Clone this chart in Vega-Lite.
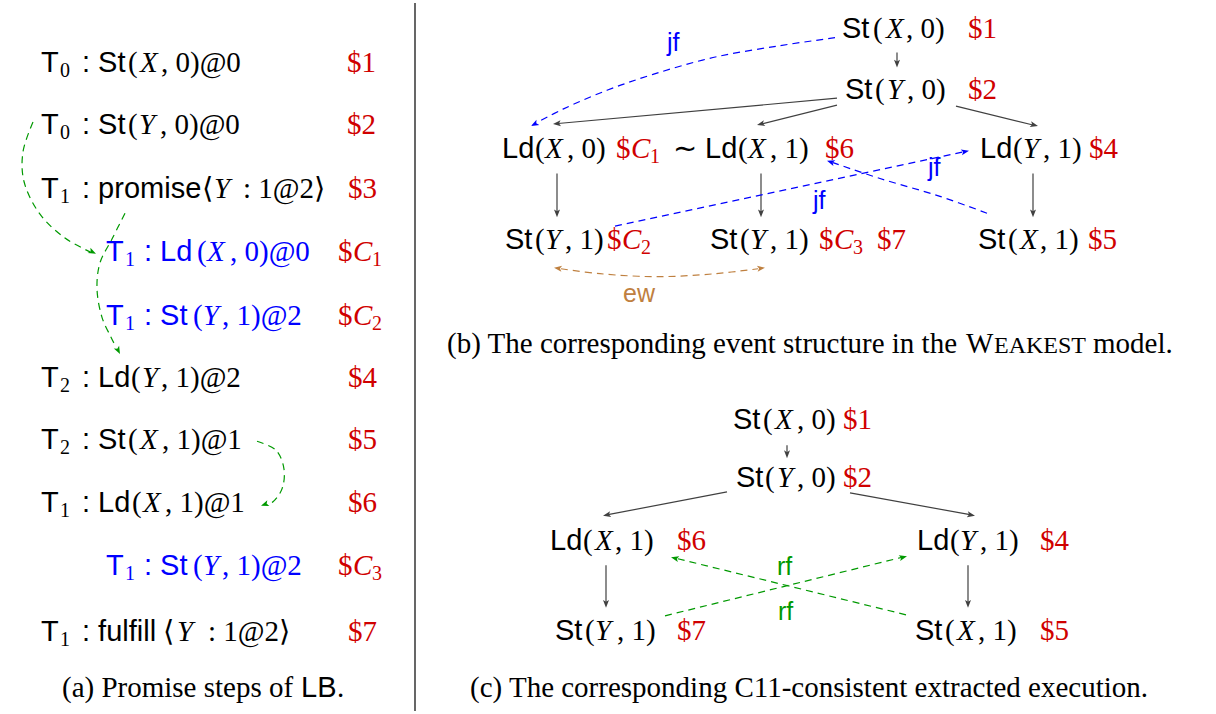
{
  "$schema": "https://vega.github.io/schema/vega-lite/v6.json",
  "width": 1216,
  "height": 714,
  "autosize": {"type": "fit", "contains": "padding"},
  "padding": 0,
  "background": "white",
  "config": {"view": {"stroke": null}},
  "datasets": {
    "ln": [
      {"id": "sep", "o": 0, "x": 415, "y": 0, "c": "k", "k": "s"},
      {"id": "sep", "o": 1, "x": 415, "y": 714, "c": "k", "k": "s"},
      {"id": "b1", "o": 0, "x": 897, "y": 50, "c": "a", "k": "s"},
      {"id": "b1", "o": 1, "x": 897, "y": 60, "c": "a", "k": "s"},
      {"id": "b2", "o": 0, "x": 837, "y": 96, "c": "a", "k": "s"},
      {"id": "b2", "o": 1, "x": 558, "y": 121.5, "c": "a", "k": "s"},
      {"id": "b3", "o": 0, "x": 837, "y": 103, "c": "a", "k": "s"},
      {"id": "b3", "o": 1, "x": 762, "y": 122, "c": "a", "k": "s"},
      {"id": "b4", "o": 0, "x": 956, "y": 104, "c": "a", "k": "s"},
      {"id": "b4", "o": 1, "x": 1033, "y": 123, "c": "a", "k": "s"},
      {"id": "b5", "o": 0, "x": 557, "y": 172, "c": "a", "k": "s"},
      {"id": "b5", "o": 1, "x": 557, "y": 211, "c": "a", "k": "s"},
      {"id": "b6", "o": 0, "x": 761, "y": 172, "c": "a", "k": "s"},
      {"id": "b6", "o": 1, "x": 761, "y": 211, "c": "a", "k": "s"},
      {"id": "b7", "o": 0, "x": 1033, "y": 172, "c": "a", "k": "s"},
      {"id": "b7", "o": 1, "x": 1033, "y": 211, "c": "a", "k": "s"},
      {"id": "c1", "o": 0, "x": 787, "y": 446, "c": "a", "k": "s"},
      {"id": "c1", "o": 1, "x": 787, "y": 454, "c": "a", "k": "s"},
      {"id": "c2", "o": 0, "x": 727, "y": 493, "c": "a", "k": "s"},
      {"id": "c2", "o": 1, "x": 608, "y": 516, "c": "a", "k": "s"},
      {"id": "c3", "o": 0, "x": 850, "y": 494, "c": "a", "k": "s"},
      {"id": "c3", "o": 1, "x": 970, "y": 516, "c": "a", "k": "s"},
      {"id": "c4", "o": 0, "x": 606, "y": 567, "c": "a", "k": "s"},
      {"id": "c4", "o": 1, "x": 606, "y": 605, "c": "a", "k": "s"},
      {"id": "c5", "o": 0, "x": 968, "y": 567, "c": "a", "k": "s"},
      {"id": "c5", "o": 1, "x": 968, "y": 605, "c": "a", "k": "s"},
      {"id": "ga", "o": 0, "x": 33, "y": 120, "c": "g", "k": "d"},
      {"id": "ga", "o": 1, "x": 23, "y": 150, "c": "g", "k": "d"},
      {"id": "ga", "o": 2, "x": 24, "y": 180, "c": "g", "k": "d"},
      {"id": "ga", "o": 3, "x": 40, "y": 213, "c": "g", "k": "d"},
      {"id": "ga", "o": 4, "x": 65, "y": 237, "c": "g", "k": "d"},
      {"id": "ga", "o": 5, "x": 90, "y": 251, "c": "g", "k": "d"},
      {"id": "gb", "o": 0, "x": 125, "y": 212, "c": "g", "k": "d"},
      {"id": "gb", "o": 1, "x": 112, "y": 238, "c": "g", "k": "d"},
      {"id": "gb", "o": 2, "x": 100, "y": 262, "c": "g", "k": "d"},
      {"id": "gb", "o": 3, "x": 97, "y": 288, "c": "g", "k": "d"},
      {"id": "gb", "o": 4, "x": 102, "y": 317, "c": "g", "k": "d"},
      {"id": "gb", "o": 5, "x": 111, "y": 337, "c": "g", "k": "d"},
      {"id": "gb", "o": 6, "x": 116, "y": 347, "c": "g", "k": "d"},
      {"id": "gc", "o": 0, "x": 257, "y": 442, "c": "g", "k": "d"},
      {"id": "gc", "o": 1, "x": 276, "y": 451, "c": "g", "k": "d"},
      {"id": "gc", "o": 2, "x": 284, "y": 470, "c": "g", "k": "d"},
      {"id": "gc", "o": 3, "x": 282, "y": 490, "c": "g", "k": "d"},
      {"id": "gc", "o": 4, "x": 273, "y": 503, "c": "g", "k": "d"},
      {"id": "gc", "o": 5, "x": 267, "y": 506, "c": "g", "k": "d"},
      {"id": "jf1", "o": 0, "x": 835, "y": 35, "c": "b", "k": "d"},
      {"id": "jf1", "o": 1, "x": 780, "y": 43, "c": "b", "k": "d"},
      {"id": "jf1", "o": 2, "x": 713, "y": 55, "c": "b", "k": "d"},
      {"id": "jf1", "o": 3, "x": 653, "y": 72, "c": "b", "k": "d"},
      {"id": "jf1", "o": 4, "x": 607, "y": 88, "c": "b", "k": "d"},
      {"id": "jf1", "o": 5, "x": 563, "y": 107, "c": "b", "k": "d"},
      {"id": "jf1", "o": 6, "x": 538, "y": 120, "c": "b", "k": "d"},
      {"id": "jf2", "o": 0, "x": 615, "y": 225, "c": "b", "k": "d"},
      {"id": "jf2", "o": 1, "x": 964, "y": 150, "c": "b", "k": "d"},
      {"id": "jf3", "o": 0, "x": 987, "y": 212, "c": "b", "k": "d"},
      {"id": "jf3", "o": 1, "x": 940, "y": 195, "c": "b", "k": "d"},
      {"id": "jf3", "o": 2, "x": 880, "y": 177, "c": "b", "k": "d"},
      {"id": "jf3", "o": 3, "x": 833, "y": 161, "c": "b", "k": "d"},
      {"id": "ew", "o": 0, "x": 561, "y": 268, "c": "o", "k": "d"},
      {"id": "ew", "o": 1, "x": 600, "y": 273, "c": "o", "k": "d"},
      {"id": "ew", "o": 2, "x": 657, "y": 276, "c": "o", "k": "d"},
      {"id": "ew", "o": 3, "x": 715, "y": 273, "c": "o", "k": "d"},
      {"id": "ew", "o": 4, "x": 758, "y": 268, "c": "o", "k": "d"},
      {"id": "rf1", "o": 0, "x": 665, "y": 618, "c": "g", "k": "d"},
      {"id": "rf1", "o": 1, "x": 902, "y": 559, "c": "g", "k": "d"},
      {"id": "rf2", "o": 0, "x": 906, "y": 617, "c": "g", "k": "d"},
      {"id": "rf2", "o": 1, "x": 676, "y": 560, "c": "g", "k": "d"}
    ],
    "hd": [
      {"x": 897, "y": 65, "a": 180, "c": "a"},
      {"x": 553, "y": 122, "a": 264.8, "c": "a"},
      {"x": 757, "y": 123, "a": 256, "c": "a"},
      {"x": 1038, "y": 124, "a": 103.7, "c": "a"},
      {"x": 557, "y": 216, "a": 180, "c": "a"},
      {"x": 761, "y": 216, "a": 180, "c": "a"},
      {"x": 1033, "y": 216, "a": 180, "c": "a"},
      {"x": 787, "y": 459, "a": 180, "c": "a"},
      {"x": 603, "y": 517, "a": 259, "c": "a"},
      {"x": 975, "y": 517, "a": 100.4, "c": "a"},
      {"x": 606, "y": 610, "a": 180, "c": "a"},
      {"x": 968, "y": 610, "a": 180, "c": "a"},
      {"x": 96, "y": 253, "a": 117, "c": "g"},
      {"x": 120, "y": 354, "a": 153, "c": "g"},
      {"x": 261, "y": 507, "a": 250, "c": "g"},
      {"x": 531, "y": 124, "a": 242, "c": "b"},
      {"x": 969, "y": 149, "a": 78, "c": "b"},
      {"x": 827, "y": 159, "a": 289, "c": "b"},
      {"x": 554, "y": 267, "a": 277, "c": "o"},
      {"x": 765, "y": 267, "a": 83, "c": "o"},
      {"x": 907, "y": 558, "a": 76, "c": "g"},
      {"x": 671, "y": 559, "a": 284, "c": "g"}
    ],
    "txt": [
      {"x": 41, "y": 70, "t": "T", "st": "sans", "c": "k"},
      {"x": 60, "y": 75, "t": "0", "st": "sub", "c": "k"},
      {"x": 82, "y": 70, "t": ": St", "st": "sans", "c": "k"},
      {"x": 128, "y": 70, "t": "(", "st": "rm", "c": "k"},
      {"x": 140, "y": 70, "t": "X", "st": "it", "c": "k"},
      {"x": 161, "y": 70, "t": ", 0)@0", "st": "rm", "c": "k"},
      {"x": 347, "y": 70, "t": "$1", "st": "rm", "c": "r"},

      {"x": 41, "y": 132, "t": "T", "st": "sans", "c": "k"},
      {"x": 60, "y": 137, "t": "0", "st": "sub", "c": "k"},
      {"x": 82, "y": 132, "t": ": St", "st": "sans", "c": "k"},
      {"x": 128, "y": 132, "t": "(", "st": "rm", "c": "k"},
      {"x": 139, "y": 132, "t": "Y", "st": "it", "c": "k"},
      {"x": 160, "y": 132, "t": ", 0)@0", "st": "rm", "c": "k"},
      {"x": 347, "y": 132, "t": "$2", "st": "rm", "c": "r"},

      {"x": 41, "y": 197, "t": "T", "st": "sans", "c": "k"},
      {"x": 60, "y": 202, "t": "1", "st": "sub", "c": "k"},
      {"x": 82, "y": 197, "t": ": promise", "st": "sans", "c": "k"},
      {"x": 202, "y": 197, "t": "⟨", "st": "rm", "c": "k"},
      {"x": 214, "y": 197, "t": "Y", "st": "it", "c": "k"},
      {"x": 243, "y": 197, "t": ": 1@2⟩", "st": "rm", "c": "k"},
      {"x": 348, "y": 197, "t": "$3", "st": "rm", "c": "r"},

      {"x": 106, "y": 260, "t": "T", "st": "sans", "c": "b"},
      {"x": 125, "y": 265, "t": "1", "st": "sub", "c": "b"},
      {"x": 144, "y": 260, "t": ": Ld", "st": "sans", "c": "b"},
      {"x": 197, "y": 260, "t": "(", "st": "rm", "c": "b"},
      {"x": 207, "y": 260, "t": "X", "st": "it", "c": "b"},
      {"x": 230, "y": 260, "t": ", 0)@0", "st": "rm", "c": "b"},
      {"x": 338, "y": 260, "t": "$", "st": "rm", "c": "r"},
      {"x": 353, "y": 260, "t": "C", "st": "it", "c": "r"},
      {"x": 372, "y": 265, "t": "1", "st": "sub", "c": "r"},

      {"x": 106, "y": 325, "t": "T", "st": "sans", "c": "b"},
      {"x": 125, "y": 330, "t": "1", "st": "sub", "c": "b"},
      {"x": 144, "y": 325, "t": ": St", "st": "sans", "c": "b"},
      {"x": 193, "y": 325, "t": "(", "st": "rm", "c": "b"},
      {"x": 203, "y": 325, "t": "Y", "st": "it", "c": "b"},
      {"x": 222, "y": 325, "t": ", 1)@2", "st": "rm", "c": "b"},
      {"x": 338, "y": 325, "t": "$", "st": "rm", "c": "r"},
      {"x": 353, "y": 325, "t": "C", "st": "it", "c": "r"},
      {"x": 372, "y": 330, "t": "2", "st": "sub", "c": "r"},

      {"x": 41, "y": 387, "t": "T", "st": "sans", "c": "k"},
      {"x": 60, "y": 392, "t": "2", "st": "sub", "c": "k"},
      {"x": 82, "y": 387, "t": ": Ld", "st": "sans", "c": "k"},
      {"x": 131, "y": 387, "t": "(", "st": "rm", "c": "k"},
      {"x": 142, "y": 387, "t": "Y", "st": "it", "c": "k"},
      {"x": 161, "y": 387, "t": ", 1)@2", "st": "rm", "c": "k"},
      {"x": 348, "y": 387, "t": "$4", "st": "rm", "c": "r"},

      {"x": 41, "y": 450, "t": "T", "st": "sans", "c": "k"},
      {"x": 60, "y": 455, "t": "2", "st": "sub", "c": "k"},
      {"x": 82, "y": 450, "t": ": St", "st": "sans", "c": "k"},
      {"x": 128, "y": 450, "t": "(", "st": "rm", "c": "k"},
      {"x": 140, "y": 450, "t": "X", "st": "it", "c": "k"},
      {"x": 162, "y": 450, "t": ", 1)@1", "st": "rm", "c": "k"},
      {"x": 348, "y": 450, "t": "$5", "st": "rm", "c": "r"},

      {"x": 41, "y": 513, "t": "T", "st": "sans", "c": "k"},
      {"x": 60, "y": 518, "t": "1", "st": "sub", "c": "k"},
      {"x": 82, "y": 513, "t": ": Ld", "st": "sans", "c": "k"},
      {"x": 132, "y": 513, "t": "(", "st": "rm", "c": "k"},
      {"x": 143, "y": 513, "t": "X", "st": "it", "c": "k"},
      {"x": 165, "y": 513, "t": ", 1)@1", "st": "rm", "c": "k"},
      {"x": 348, "y": 513, "t": "$6", "st": "rm", "c": "r"},

      {"x": 106, "y": 577, "t": "T", "st": "sans", "c": "b"},
      {"x": 125, "y": 582, "t": "1", "st": "sub", "c": "b"},
      {"x": 144, "y": 577, "t": ": St", "st": "sans", "c": "b"},
      {"x": 193, "y": 577, "t": "(", "st": "rm", "c": "b"},
      {"x": 203, "y": 577, "t": "Y", "st": "it", "c": "b"},
      {"x": 222, "y": 577, "t": ", 1)@2", "st": "rm", "c": "b"},
      {"x": 338, "y": 577, "t": "$", "st": "rm", "c": "r"},
      {"x": 353, "y": 577, "t": "C", "st": "it", "c": "r"},
      {"x": 372, "y": 582, "t": "3", "st": "sub", "c": "r"},

      {"x": 41, "y": 643, "t": "T", "st": "sans", "c": "k"},
      {"x": 60, "y": 648, "t": "1", "st": "sub", "c": "k"},
      {"x": 82, "y": 643, "t": ": fulfill", "st": "sans", "c": "k"},
      {"x": 163, "y": 643, "t": "⟨", "st": "rm", "c": "k"},
      {"x": 177, "y": 643, "t": "Y", "st": "it", "c": "k"},
      {"x": 208, "y": 643, "t": ": 1@2⟩", "st": "rm", "c": "k"},
      {"x": 348, "y": 643, "t": "$7", "st": "rm", "c": "r"},

      {"x": 62, "y": 700, "t": "(a) Promise steps of", "st": "rm", "c": "k"},
      {"x": 301, "y": 700, "t": "LB", "st": "sans", "c": "k"},
      {"x": 337, "y": 700, "t": ".", "st": "rm", "c": "k"},

      {"x": 842, "y": 35, "t": "St", "st": "sans", "c": "k"},
      {"x": 873, "y": 35, "t": "(", "st": "rm", "c": "k"},
      {"x": 886, "y": 35, "t": "X", "st": "it", "c": "k"},
      {"x": 906, "y": 35, "t": ", 0)", "st": "rm", "c": "k"},
      {"x": 968, "y": 35, "t": "$1", "st": "rm", "c": "r"},

      {"x": 845, "y": 97, "t": "St", "st": "sans", "c": "k"},
      {"x": 875, "y": 97, "t": "(", "st": "rm", "c": "k"},
      {"x": 887, "y": 97, "t": "Y", "st": "it", "c": "k"},
      {"x": 907, "y": 97, "t": ", 0)", "st": "rm", "c": "k"},
      {"x": 968, "y": 97, "t": "$2", "st": "rm", "c": "r"},

      {"x": 502, "y": 156, "t": "Ld", "st": "sans", "c": "k"},
      {"x": 535, "y": 156, "t": "(", "st": "rm", "c": "k"},
      {"x": 545, "y": 156, "t": "X", "st": "it", "c": "k"},
      {"x": 567, "y": 156, "t": ", 0)", "st": "rm", "c": "k"},
      {"x": 616, "y": 156, "t": "$", "st": "rm", "c": "r"},
      {"x": 631, "y": 156, "t": "C", "st": "it", "c": "r"},
      {"x": 650, "y": 161, "t": "1", "st": "sub", "c": "r"},
      {"x": 673, "y": 156, "t": "∼", "st": "rm", "c": "k"},
      {"x": 705, "y": 156, "t": "Ld", "st": "sans", "c": "k"},
      {"x": 738, "y": 156, "t": "(", "st": "rm", "c": "k"},
      {"x": 748, "y": 156, "t": "X", "st": "it", "c": "k"},
      {"x": 770, "y": 156, "t": ", 1)", "st": "rm", "c": "k"},
      {"x": 825, "y": 156, "t": "$6", "st": "rm", "c": "r"},

      {"x": 980, "y": 156, "t": "Ld", "st": "sans", "c": "k"},
      {"x": 1013, "y": 156, "t": "(", "st": "rm", "c": "k"},
      {"x": 1023, "y": 156, "t": "Y", "st": "it", "c": "k"},
      {"x": 1043, "y": 156, "t": ", 1)", "st": "rm", "c": "k"},
      {"x": 1089, "y": 156, "t": "$4", "st": "rm", "c": "r"},

      {"x": 505, "y": 248, "t": "St", "st": "sans", "c": "k"},
      {"x": 535, "y": 248, "t": "(", "st": "rm", "c": "k"},
      {"x": 545, "y": 248, "t": "Y", "st": "it", "c": "k"},
      {"x": 565, "y": 248, "t": ", 1)", "st": "rm", "c": "k"},
      {"x": 607, "y": 248, "t": "$", "st": "rm", "c": "r"},
      {"x": 622, "y": 248, "t": "C", "st": "it", "c": "r"},
      {"x": 641, "y": 253, "t": "2", "st": "sub", "c": "r"},

      {"x": 710, "y": 248, "t": "St", "st": "sans", "c": "k"},
      {"x": 740, "y": 248, "t": "(", "st": "rm", "c": "k"},
      {"x": 750, "y": 248, "t": "Y", "st": "it", "c": "k"},
      {"x": 770, "y": 248, "t": ", 1)", "st": "rm", "c": "k"},
      {"x": 819, "y": 248, "t": "$", "st": "rm", "c": "r"},
      {"x": 834, "y": 248, "t": "C", "st": "it", "c": "r"},
      {"x": 853, "y": 253, "t": "3", "st": "sub", "c": "r"},
      {"x": 877, "y": 248, "t": "$7", "st": "rm", "c": "r"},

      {"x": 978, "y": 248, "t": "St", "st": "sans", "c": "k"},
      {"x": 1008, "y": 248, "t": "(", "st": "rm", "c": "k"},
      {"x": 1020, "y": 248, "t": "X", "st": "it", "c": "k"},
      {"x": 1040, "y": 248, "t": ", 1)", "st": "rm", "c": "k"},
      {"x": 1088, "y": 248, "t": "$5", "st": "rm", "c": "r"},

      {"x": 667, "y": 48, "t": "jf", "st": "lbl", "c": "b"},
      {"x": 813, "y": 208, "t": "jf", "st": "lbl", "c": "b"},
      {"x": 928, "y": 174, "t": "jf", "st": "lbl", "c": "b"},
      {"x": 623, "y": 302, "t": "ew", "st": "lbl", "c": "o"},

      {"x": 447, "y": 353, "t": "(b) The corresponding event structure in the", "st": "rm", "c": "k"},
      {"x": 966, "y": 353, "t": "W", "st": "rm", "c": "k"},
      {"x": 994, "y": 353, "t": "EAKEST", "st": "sc", "c": "k"},
      {"x": 1093, "y": 353, "t": "model.", "st": "rm", "c": "k"},

      {"x": 733, "y": 430, "t": "St", "st": "sans", "c": "k"},
      {"x": 763, "y": 430, "t": "(", "st": "rm", "c": "k"},
      {"x": 775, "y": 430, "t": "X", "st": "it", "c": "k"},
      {"x": 797, "y": 430, "t": ", 0)", "st": "rm", "c": "k"},
      {"x": 843, "y": 430, "t": "$1", "st": "rm", "c": "r"},

      {"x": 736, "y": 488, "t": "St", "st": "sans", "c": "k"},
      {"x": 765, "y": 488, "t": "(", "st": "rm", "c": "k"},
      {"x": 777, "y": 488, "t": "Y", "st": "it", "c": "k"},
      {"x": 797, "y": 488, "t": ", 0)", "st": "rm", "c": "k"},
      {"x": 843, "y": 488, "t": "$2", "st": "rm", "c": "r"},

      {"x": 550, "y": 552, "t": "Ld", "st": "sans", "c": "k"},
      {"x": 583, "y": 552, "t": "(", "st": "rm", "c": "k"},
      {"x": 595, "y": 552, "t": "X", "st": "it", "c": "k"},
      {"x": 615, "y": 552, "t": ", 1)", "st": "rm", "c": "k"},
      {"x": 677, "y": 552, "t": "$6", "st": "rm", "c": "r"},

      {"x": 917, "y": 552, "t": "Ld", "st": "sans", "c": "k"},
      {"x": 950, "y": 552, "t": "(", "st": "rm", "c": "k"},
      {"x": 960, "y": 552, "t": "Y", "st": "it", "c": "k"},
      {"x": 980, "y": 552, "t": ", 1)", "st": "rm", "c": "k"},
      {"x": 1040, "y": 552, "t": "$4", "st": "rm", "c": "r"},

      {"x": 555, "y": 642, "t": "St", "st": "sans", "c": "k"},
      {"x": 585, "y": 642, "t": "(", "st": "rm", "c": "k"},
      {"x": 595, "y": 642, "t": "Y", "st": "it", "c": "k"},
      {"x": 617, "y": 642, "t": ", 1)", "st": "rm", "c": "k"},
      {"x": 677, "y": 642, "t": "$7", "st": "rm", "c": "r"},

      {"x": 915, "y": 642, "t": "St", "st": "sans", "c": "k"},
      {"x": 945, "y": 642, "t": "(", "st": "rm", "c": "k"},
      {"x": 957, "y": 642, "t": "X", "st": "it", "c": "k"},
      {"x": 978, "y": 642, "t": ", 1)", "st": "rm", "c": "k"},
      {"x": 1040, "y": 642, "t": "$5", "st": "rm", "c": "r"},

      {"x": 777, "y": 577, "t": "rf", "st": "lbl", "c": "g"},
      {"x": 778, "y": 622, "t": "rf", "st": "lbl", "c": "g"},

      {"x": 470, "y": 700, "t": "(c) The corresponding C11-consistent extracted execution.", "st": "rm", "c": "k"}
    ]
  },
  "encoding": {
    "x": {"field": "x", "type": "quantitative", "scale": {"domain": [0, 1216], "nice": false, "zero": false}, "axis": null},
    "y": {"field": "y", "type": "quantitative", "scale": {"domain": [0, 714], "nice": false, "zero": false, "reverse": true}, "axis": null},
    "color": {
      "field": "c",
      "type": "nominal",
      "scale": {"domain": ["k", "r", "b", "g", "o", "a"], "range": ["#000000", "#d00000", "#0000ff", "#009900", "#bf8040", "#404040"]},
      "legend": null
    }
  },
  "layer": [
    {
      "data": {"name": "ln"},
      "transform": [{"filter": "datum.k == 's'"}],
      "mark": {"type": "line", "strokeWidth": 1.2, "interpolate": "catmull-rom"},
      "encoding": {"detail": {"field": "id", "type": "nominal"}, "order": {"field": "o", "type": "quantitative"}}
    },
    {
      "data": {"name": "ln"},
      "transform": [{"filter": "datum.k == 'd'"}],
      "mark": {"type": "line", "strokeWidth": 1.2, "strokeDash": [7, 5], "interpolate": "catmull-rom"},
      "encoding": {"detail": {"field": "id", "type": "nominal"}, "order": {"field": "o", "type": "quantitative"}}
    },
    {
      "data": {"name": "hd"},
      "mark": {"type": "point", "shape": "M0,0L1,2.6L0,2L-1,2.6Z", "filled": true, "size": 36, "opacity": 1, "strokeWidth": 0},
      "encoding": {"angle": {"field": "a", "type": "quantitative", "scale": null}}
    },
    {
      "data": {"name": "txt"},
      "transform": [{"filter": "datum.st == 'sans'"}],
      "mark": {"type": "text", "align": "left", "baseline": "alphabetic", "font": "Liberation Sans", "fontSize": 29},
      "encoding": {"text": {"field": "t"}}
    },
    {
      "data": {"name": "txt"},
      "transform": [{"filter": "datum.st == 'lbl'"}],
      "mark": {"type": "text", "align": "left", "baseline": "alphabetic", "font": "Liberation Sans", "fontSize": 25},
      "encoding": {"text": {"field": "t"}}
    },
    {
      "data": {"name": "txt"},
      "transform": [{"filter": "datum.st == 'rm'"}],
      "mark": {"type": "text", "align": "left", "baseline": "alphabetic", "font": "Liberation Serif", "fontSize": 29},
      "encoding": {"text": {"field": "t"}}
    },
    {
      "data": {"name": "txt"},
      "transform": [{"filter": "datum.st == 'sub'"}],
      "mark": {"type": "text", "align": "left", "baseline": "alphabetic", "font": "Liberation Serif", "fontSize": 20},
      "encoding": {"text": {"field": "t"}}
    },
    {
      "data": {"name": "txt"},
      "transform": [{"filter": "datum.st == 'sc'"}],
      "mark": {"type": "text", "align": "left", "baseline": "alphabetic", "font": "Liberation Serif", "fontSize": 24},
      "encoding": {"text": {"field": "t"}}
    },
    {
      "data": {"name": "txt"},
      "transform": [{"filter": "datum.st == 'it'"}],
      "mark": {"type": "text", "align": "left", "baseline": "alphabetic", "font": "Liberation Serif", "fontStyle": "italic", "fontSize": 29},
      "encoding": {"text": {"field": "t"}}
    }
  ]
}
